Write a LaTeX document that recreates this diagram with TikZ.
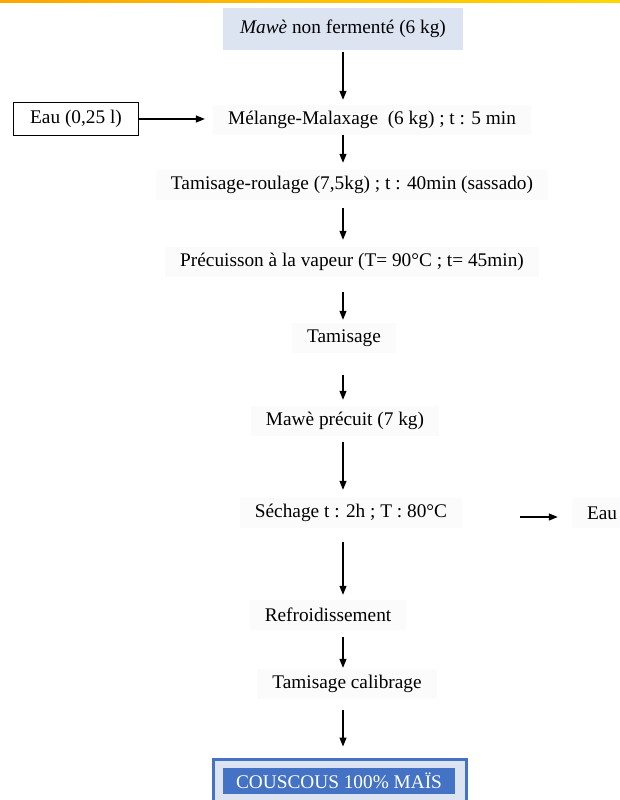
\documentclass[tikz,border=0pt]{standalone}
\usepackage[svgnames]{xcolor}
\usepackage{fontspec}
\setmainfont{Liberation Serif}
\usepackage{tikz}
\usetikzlibrary{arrows.meta}
\definecolor{paleblue}{HTML}{DCE3F1}
\definecolor{wordblue}{HTML}{4472C4}
\definecolor{faint}{HTML}{FBFBFB}
\tikzstyle{etape}=[fill=faint,inner xsep=15pt,minimum height=30pt,font=\fontsize{19.3}{22}\selectfont]
\tikzstyle{debut}=[fill=paleblue,minimum width=240pt,minimum height=42pt,font=\fontsize{19.3}{22}\selectfont]
\tikzstyle{entree}=[draw,line width=0.9pt,minimum width=125pt,minimum height=33pt,font=\fontsize{19.3}{22}\selectfont]
\tikzstyle{fleche}=[line width=1.2pt,-{Triangle[length=9pt,width=7pt]}]
\tikzstyle{fin}=[draw=wordblue,line width=3pt,fill=paleblue,minimum width=253pt,minimum height=42pt]
\tikzstyle{fintxt}=[fill=wordblue,text=white,minimum width=232pt,minimum height=26pt,font=\fontsize{19.3}{22}\selectfont]

\begin{document}
\begin{tikzpicture}[x=1pt,y=-1pt]
\useasboundingbox (0,0) rectangle (620,800);
% bande du haut
\fill[left color=Orange,right color=Gold] (0,0) rectangle (620,3);

\node[debut] (mawe) at (343,29) {\textit{Mawè} non fermenté (6 kg)};
\node[entree] (eau1) at (76,119) {Eau (0,25 l)};
\node[etape] (mel) at (372,120) {Mélange-Malaxage~ (6 kg) ; t : 5 min};
\node[etape] (tamr) at (352,185) {Tamisage-roulage (7,5kg) ; t : 40min (sassado)};
\node[etape] (prec) at (352,262) {Précuisson à la vapeur (T= 90°C ; t= 45min)};
\node[etape] (tam) at (344,338) {Tamisage};
\node[etape] (prc) at (345,421) {Mawè précuit (7 kg)};
\node[etape] (sech) at (351,513) {Séchage t : 2h ; T : 80°C};
\node[etape] (eau2) at (602,513) {Eau};
\node[etape] (refr) at (328,615) {Refroidissement};
\node[etape] (tcal) at (347,684) {Tamisage calibrage};
\node[fin] (final) at (340,780) {};
\node[fintxt] (finaltxt) at (339,781) {COUSCOUS 100\% MAÏS};

\foreach \src/\dst/\sa/\sb in {mawe/mel/2/5, mel/tamr/0/7, tamr/prec/8/7,
  prec/tam/15/3, tam/prc/22/6, prc/sech/6/8, sech/refr/14/5,
  refr/tcal/7/1, tcal/final/11/11}
  \draw[fleche,shorten <=\sa pt,shorten >=\sb pt] (\src.south -| mawe) -- (\dst.north -| mawe);

\draw[fleche,shorten >=8pt] (eau1.east) -- (eau1.east -| mel.west);
\draw[fleche,shorten <=58pt,shorten >=14pt] ([yshift=-4pt]sech.east) -- ([yshift=-4pt]sech.east -| eau2.west);
\end{tikzpicture}
\end{document}
